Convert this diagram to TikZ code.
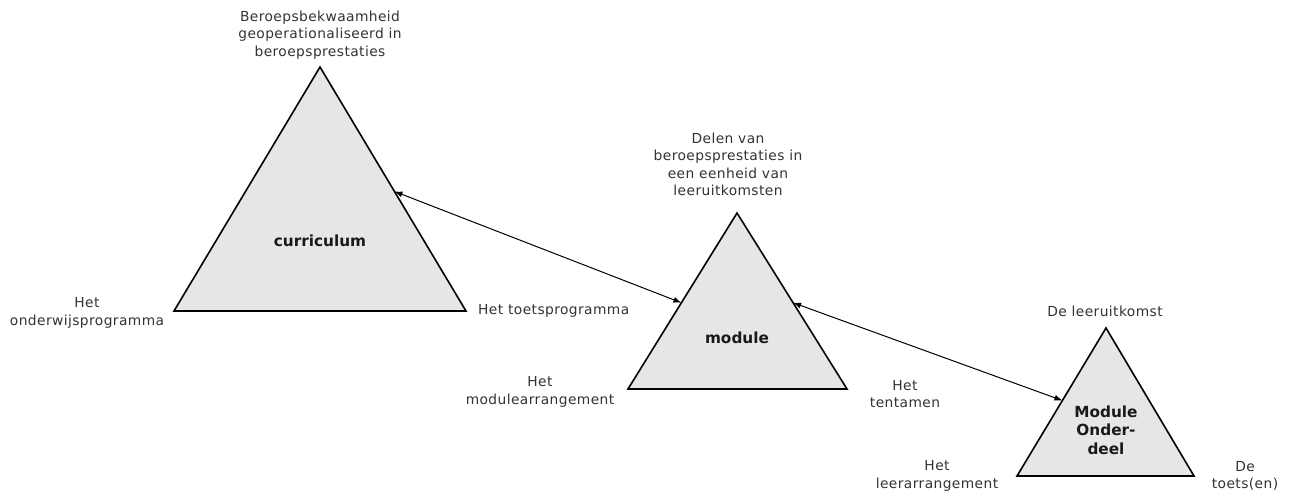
\documentclass[tikz,border=0pt]{standalone}
\usepackage{fontspec}
\setmainfont{DejaVu Sans}
\newfontfamily\lblfont{DejaVu Sans}[LetterSpace=3]
\usetikzlibrary{arrows.meta,calc}
\definecolor{trifill}{HTML}{E6E6E6}
\definecolor{txt}{HTML}{333333}
\tikzset{
  tri/.style={draw=black, line width=1.6pt, fill=trifill, line join=miter},
  lbl/.style={align=center, inner sep=0pt, text=txt, font=\lblfont\fontsize{13.8}{17.5}\selectfont},
  blbl/.style={align=center, inner sep=0pt, text=black!90, font=\fontsize{15.3}{18.5}\selectfont\bfseries},
  link/.style={draw=black, line width=1pt, {Latex[length=8pt,width=6pt]}-{Latex[length=8pt,width=6pt]}}
}
\begin{document}
\begin{tikzpicture}[x=1pt,y=-1pt]
\useasboundingbox (0,0) rectangle (1295,494);
% curriculum triangle
\coordinate (cA) at (320,67);
\coordinate (cL) at (174,311);
\coordinate (cR) at (466,311);
\draw[tri] (cA) -- (cL) -- (cR) -- cycle;
% module triangle
\coordinate (mA) at (737,213);
\coordinate (mL) at (628,389);
\coordinate (mR) at (847,389);
\draw[tri] (mA) -- (mL) -- (mR) -- cycle;
% module onderdeel triangle
\coordinate (oA) at (1106,328);
\coordinate (oL) at (1017,476);
\coordinate (oR) at (1194,476);
\draw[tri] (oA) -- (oL) -- (oR) -- cycle;
% connector endpoints on sides
\coordinate (c1) at ($(cA)!0.51!(cR)$);
\coordinate (m1) at ($(mA)!0.51!(mL)$);
\coordinate (m2) at ($(mA)!0.51!(mR)$);
\coordinate (o1) at ($(oA)!0.49!(oL)$);
\draw[link] (c1) -- (m1);
\draw[link] (m2) -- (o1);
% labels
\node[blbl] (curr) at (320,241) {curriculum};
\node[blbl] (mod) at (737,338) {module};
\node[blbl] (ond) at (1106,430) {Module\\Onder-\\deel};
\node[lbl] (top1) at (320,35) {Beroepsbekwaamheid\\geoperationaliseerd in\\beroepsprestaties};
\node[lbl] (onderw) at (87,313) {Het\\onderwijsprogramma};
\node[lbl, anchor=west] (toetsp) at (478,311) {Het toetsprogramma};
\node[lbl] (delen) at (728,164.5) {Delen van\\beroepsprestaties in\\een eenheid van\\leeruitkomsten};
\node[lbl] (modarr) at (540,392) {Het\\modulearrangement};
\node[lbl] (tent) at (905,394) {Het\\tentamen};
\node[lbl] (leeruit) at (1105,311) {De leeruitkomst};
\node[lbl] (leerarr) at (937,476) {Het\\leerarrangement};
\node[lbl] (toets) at (1245,476) {De\\toets(en)};
\end{tikzpicture}
\end{document}
